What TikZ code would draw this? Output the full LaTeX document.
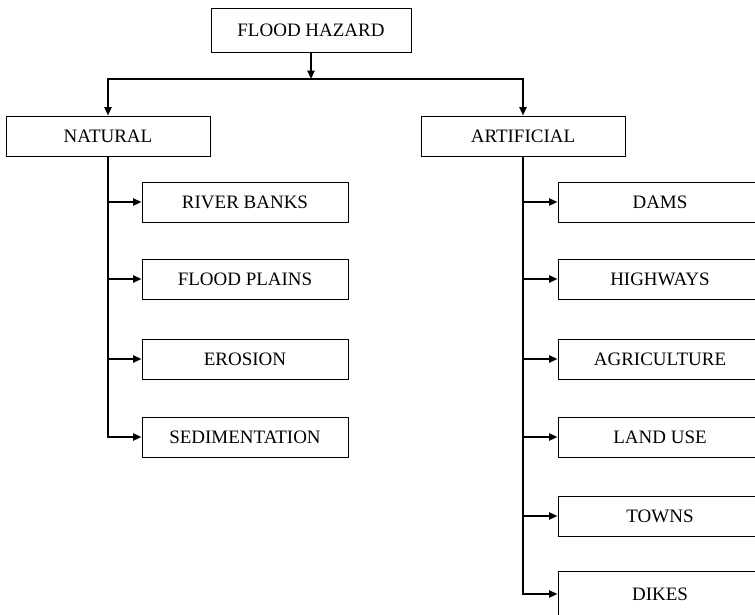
\documentclass[tikz,border=0pt]{standalone}
\usepackage{fontspec}
\setmainfont{Liberation Serif}
\usetikzlibrary{arrows.meta}

\begin{document}
\begin{tikzpicture}[>={Triangle[length=6pt, width=5pt]}, x=0.025cm, y=-0.025cm,
    box/.style={draw, line width=0.6pt, minimum height=1cm, inner sep=0pt,
      font=\fontsize{13.5}{16}\selectfont},
    leftleaf/.style={box, minimum width=5.15cm},
    rightleaf/.style={box, minimum width=5.1cm},
    link/.style={line width=1.45pt}]
            \useasboundingbox (0,0) rectangle (755,614);
            % top of the tree
            \node[box, minimum width=5cm, minimum height=1.1cm] (hazard) at (311,30) {FLOOD HAZARD};
            \node[box, minimum width=5.1cm] (natural) at (108,136) {NATURAL};
            \node[box, minimum width=5.1cm] (artificial) at (523,136) {ARTIFICIAL};
            % natural causes
            \node[leftleaf] (banks) at (245,202) {RIVER BANKS};
            \node[leftleaf] (plains) at (245,279) {FLOOD PLAINS};
            \node[leftleaf] (erosion) at (245,359) {EROSION};
            \node[leftleaf] (sediment) at (245,437) {SEDIMENTATION};
            % artificial causes
            \node[rightleaf] (dams) at (660,202) {DAMS};
            \node[rightleaf] (highways) at (660,279) {HIGHWAYS};
            \node[rightleaf] (agri) at (660,359) {AGRICULTURE};
            \node[rightleaf] (landuse) at (660,437) {LAND USE};
            \node[rightleaf] (towns) at (660,516) {TOWNS};
            \node[rightleaf, minimum height=1.15cm] (dikes) at (660,594) {DIKES};
            % connectors
            \coordinate (split) at (311,79);
            \draw[link, ->] (hazard) -- (split);
            \draw[link, ->] (split) -| (natural);
            \draw[link, ->] (split) -| (artificial);
            \draw[link, ->] (natural) |- (sediment);
            \foreach \leaf in {banks, plains, erosion}
                \draw[link, ->] (natural |- \leaf.west) -- (\leaf.west);
            \draw[link, ->] (artificial) |- (dikes);
            \foreach \leaf in {dams, highways, agri, landuse, towns}
                \draw[link, ->] (artificial |- \leaf.west) -- (\leaf.west);
        \end{tikzpicture}
\end{document}
